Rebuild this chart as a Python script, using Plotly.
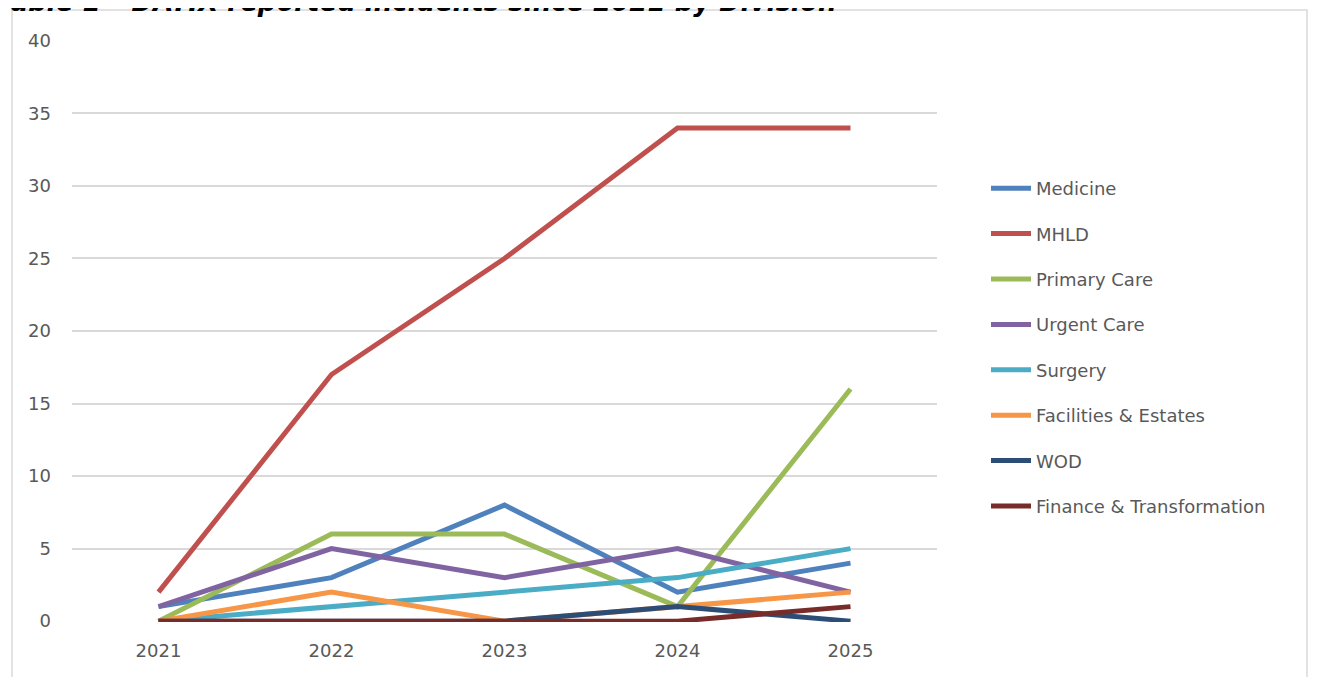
import plotly.graph_objects as go

years = ["2021", "2022", "2023", "2024", "2025"]
divisions = ["Medicine", "MHLD", "Primary Care", "Urgent Care", "Surgery",
             "Facilities & Estates", "WOD", "Finance & Transformation"]
medicine = [1, 3, 8, 2, 4]
mhld = [2, 17, 25, 34, 34]
primary_care = [0, 6, 6, 1, 16]
urgent_care = [1, 5, 3, 5, 2]
surgery = [0, 1, 2, 3, 5]
facilities = [0, 2, 0, 1, 2]
wod = [0, 0, 0, 1, 0]
finance = [0, 0, 0, 0, 1]
series = [medicine, mhld, primary_care, urgent_care, surgery, facilities, wod, finance]
colors = ["#4F81BD", "#C0504D", "#9BBB59", "#8064A2", "#4BACC6", "#F79646", "#2C4D75", "#772C2A"]
y_ticks = [0, 5, 10, 15, 20, 25, 30, 35, 40]

W, H = 1317, 677
D = 8  # page body margin offset
# target pixel positions in screenshot
PL, PR, PT, PB = 72, 937, 40, 622
L, T = PL - D, PT - D
R = W - (PR - D)
B = H - (PB - D)
pw, ph = PR - PL, PB - PT

def px(x):
    return (x - PL) / pw

def py(y):
    return (PB - y) / ph

fig = go.Figure()
for name, vals, c in zip(divisions, series, colors):
    fig.add_trace(go.Scatter(x=list(range(len(years))), y=vals, name=name, mode="lines",
                             line=dict(color=c, width=5), legendgroup=name))

FONT = "DejaVu Sans, Verdana, sans-serif"
fig.update_layout(
    width=W, height=H, margin=dict(l=L, r=R, t=T, b=B),
    paper_bgcolor="white", plot_bgcolor="white",
    font=dict(family=FONT, color="#595959", size=18),
    xaxis=dict(range=[-0.5, 4.5], tickmode="array", tickvals=list(range(len(years))),
               ticktext=years, showgrid=False, zeroline=False, showline=False,
               ticks="", tickfont=dict(size=18, color="#595959"), ticklabelstandoff=16),
    yaxis=dict(range=[-0.06, 40.06], tickvals=y_ticks, showgrid=True, gridcolor="#d9d9d9",
               gridwidth=1.5, zeroline=False, showline=False, ticks="",
               tickfont=dict(size=18, color="#595959"), ticklabelstandoff=20),
    legend=dict(x=px(986), y=py(170), xanchor="left", yanchor="top",
                traceorder="grouped", tracegroupgap=19,
                font=dict(size=18, color="#595959"), itemwidth=40,
                bgcolor="rgba(0,0,0,0)"),
    showlegend=True,
)

fig.add_shape(type="rect", xref="paper", yref="paper",
              x0=px(12), x1=px(1307), y0=py(720), y1=py(10),
              line=dict(color="#d9d9d9", width=1.5), fillcolor="rgba(0,0,0,0)", layer="below")

fig.add_annotation(text="<b><i>Table 1 – DATIX reported incidents since 2021 by Division</i></b>",
                   xref="paper", yref="paper", x=px(-6), y=py(19), xanchor="left", yanchor="bottom",
                   showarrow=False, font=dict(family=FONT, size=26, color="#000000"))

fig.write_html("out.html")
